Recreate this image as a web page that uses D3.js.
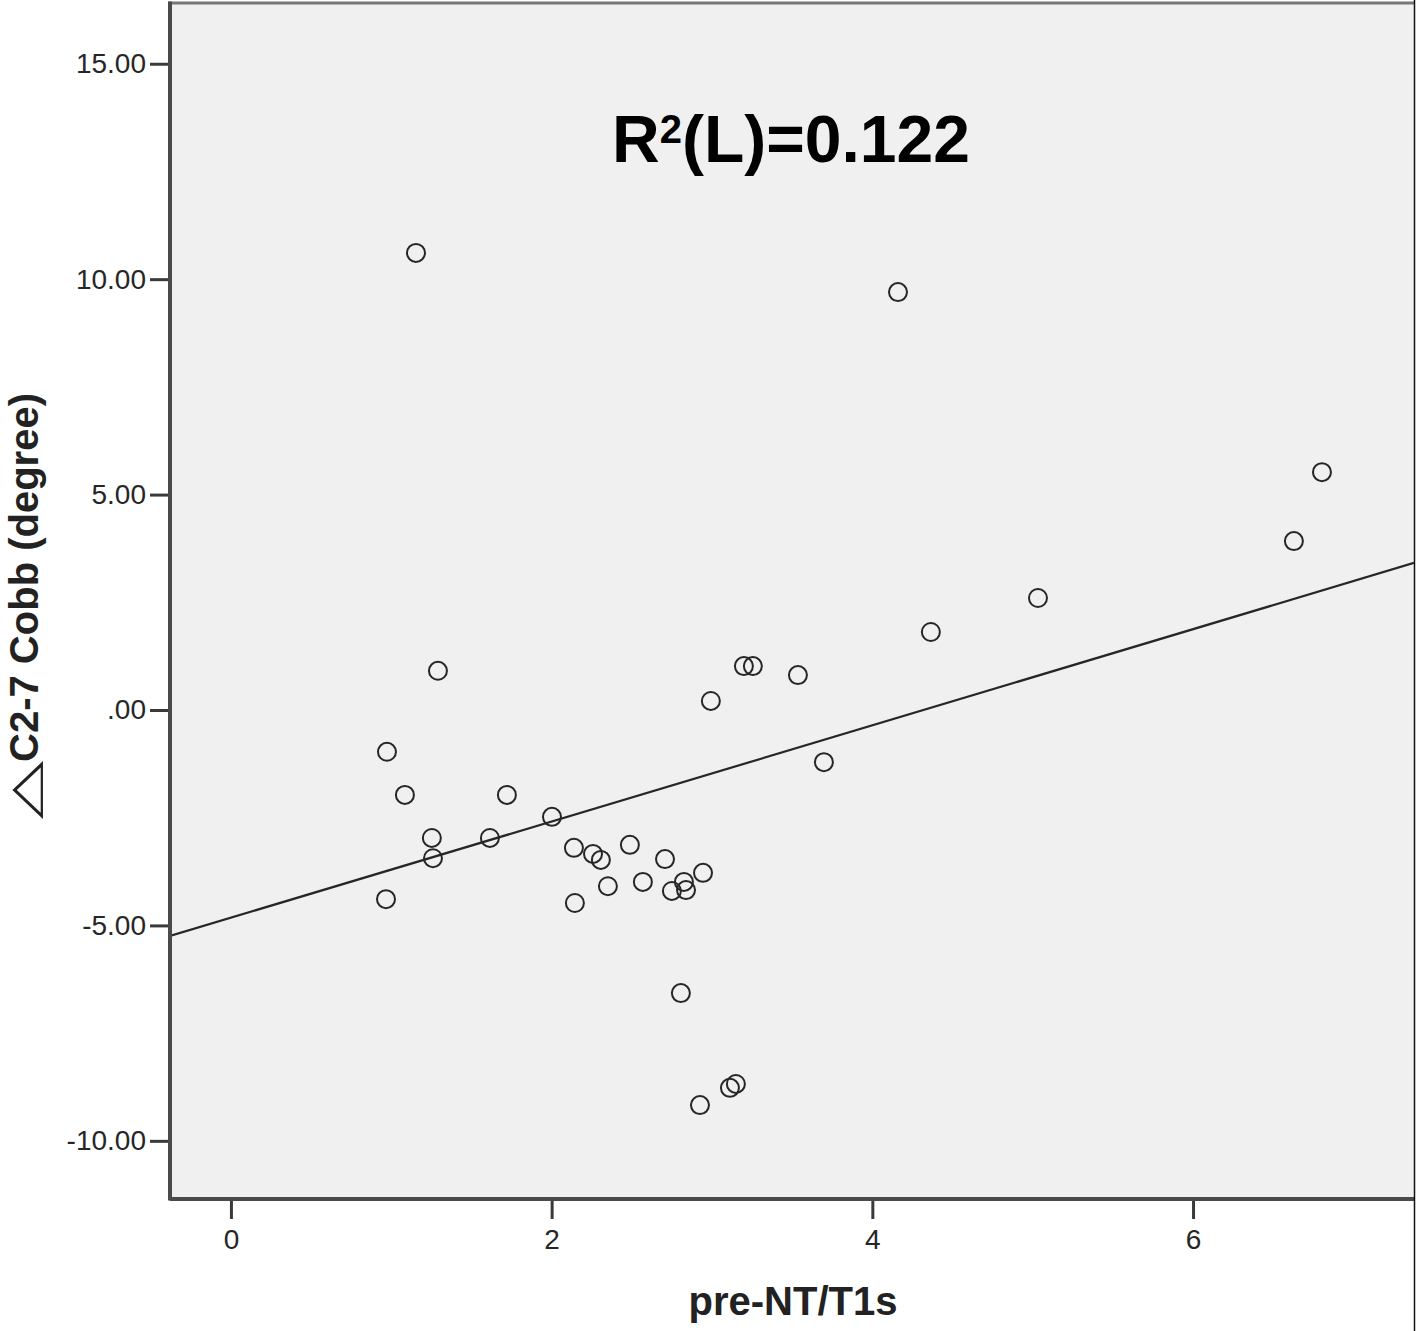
<!DOCTYPE html>
<html>
<head>
<meta charset="utf-8">
<script src="https://cdn.jsdelivr.net/npm/d3@7"></script>
<style>
  html, body { margin: 0; padding: 0; background: #ffffff; }
  svg { display: block; }
</style>
</head>
<body>
<svg id="chart" width="1418" height="1331"></svg>
<script>
// ---- data ----
const preNT = [1.154, 4.160, 6.804, 6.629, 5.033, 4.365, 1.291, 3.199, 3.255, 3.536,
               2.993, 0.973, 3.698, 1.085, 1.721, 2.002, 1.253, 1.615, 1.260, 0.967,
               2.139, 2.258, 2.307, 2.488, 2.707, 2.351, 2.569, 2.145, 2.944, 2.825,
               2.750, 2.838, 2.806, 3.112, 3.149, 2.925];
const deltaCobb = [10.61, 9.70, 5.52, 3.92, 2.60, 1.81, 0.91, 1.02, 1.02, 0.81,
                   0.21, -0.97, -1.21, -1.97, -1.97, -2.48, -2.97, -2.97, -3.44, -4.39,
                   -3.20, -3.34, -3.48, -3.13, -3.46, -4.09, -3.99, -4.48, -3.78, -3.99,
                   -4.20, -4.18, -6.57, -8.77, -8.68, -9.17];
const xTicks = [0, 2, 4, 6];
const yTicks = [15, 10, 5, 0, -5, -10];
const yTickLabels = ["15.00", "10.00", "5.00", ".00", "-5.00", "-10.00"];
const fitIntercept = -4.82;
const fitSlope = 1.116;
const r2Parts = ["R", "2", "(L)=0.122"];
const xTitle = "pre-NT/T1s";
const yTitleSymbol = "\u25B3";
const yTitle = "C2-7 Cobb (degree)";

// ---- layout ----
const svg = d3.select("#chart");
const pL = 170, pR = 1414, pT = 3, pB = 1199;
const font = "'Liberation Sans', Arial, Helvetica, sans-serif";

const x = d3.scaleLinear().domain([-0.38, 7.378]).range([pL, pR]);
const y = d3.scaleLinear().domain([-11.35, 16.41]).range([pB, pT]);

// plot background
svg.append("rect")
  .attr("x", pL).attr("y", pT)
  .attr("width", pR - pL).attr("height", pB - pT)
  .attr("fill", "#f0f0f0");

// clip for marks
svg.append("clipPath").attr("id", "clip")
  .append("rect").attr("x", pL).attr("y", pT)
  .attr("width", pR - pL).attr("height", pB - pT);

// regression line
const xd = x.domain();
svg.append("line")
  .attr("clip-path", "url(#clip)")
  .attr("x1", x(xd[0])).attr("y1", y(fitIntercept + fitSlope * xd[0]))
  .attr("x2", x(xd[1])).attr("y2", y(fitIntercept + fitSlope * xd[1]))
  .attr("stroke", "#262626").attr("stroke-width", 2.2);

// points
svg.append("g").attr("clip-path", "url(#clip)")
  .selectAll("circle")
  .data(preNT.map((v, i) => [v, deltaCobb[i]]))
  .join("circle")
  .attr("cx", d => x(d[0]))
  .attr("cy", d => y(d[1]))
  .attr("r", 9)
  .attr("fill", "none")
  .attr("stroke", "#262626")
  .attr("stroke-width", 2);

// frame
svg.append("line").attr("x1", pL - 2).attr("x2", pR).attr("y1", pT).attr("y2", pT)
  .attr("stroke", "#777").attr("stroke-width", 3);
svg.append("line").attr("x1", pL).attr("x2", pL).attr("y1", pT - 1.5).attr("y2", pB + 1.5)
  .attr("stroke", "#4a4a4a").attr("stroke-width", 4);
svg.append("line").attr("x1", pL).attr("x2", pR).attr("y1", pB).attr("y2", pB)
  .attr("stroke", "#4a4a4a").attr("stroke-width", 4);
svg.append("line").attr("x1", pR + 0.5).attr("x2", pR + 0.5).attr("y1", 0).attr("y2", 1331)
  .attr("stroke", "#111").attr("stroke-width", 1.5);

// y axis
const yAxis = d3.axisLeft(y).tickValues(yTicks)
  .tickFormat((d, i) => yTickLabels[i]).tickSize(18).tickPadding(4);
const gy = svg.append("g").attr("transform", `translate(${pL - 2},0)`).call(yAxis);
gy.select(".domain").remove();
gy.selectAll(".tick line").attr("stroke", "#3a3a3a").attr("stroke-width", 3);
gy.selectAll(".tick text").attr("font-family", font).attr("font-size", 28)
  .attr("fill", "#262626");

// x axis
const xAxis = d3.axisBottom(x).tickValues(xTicks).tickFormat(d3.format("d"))
  .tickSize(18).tickPadding(10);
const gx = svg.append("g").attr("transform", `translate(0,${pB + 2})`).call(xAxis);
gx.select(".domain").remove();
gx.selectAll(".tick line").attr("stroke", "#3a3a3a").attr("stroke-width", 3);
gx.selectAll(".tick text").attr("font-family", font).attr("font-size", 28)
  .attr("fill", "#262626");

// R2 annotation
const r2 = svg.append("text")
  .attr("x", 612).attr("y", 162)
  .attr("font-family", font).attr("font-weight", "bold").attr("font-size", 66)
  .attr("fill", "#000");
r2.append("tspan").text(r2Parts[0]);
r2.append("tspan").attr("font-size", 40).attr("dy", -19).text(r2Parts[1]);
r2.append("tspan").attr("dy", 19).text(r2Parts[2]);

// axis titles
svg.append("text")
  .attr("x", 793).attr("y", 1315)
  .attr("text-anchor", "middle")
  .attr("font-family", font).attr("font-weight", "bold").attr("font-size", 40)
  .attr("fill", "#222")
  .text(xTitle);

// y title: triangle symbol (wide, thin outline) + bold text
svg.append("text")
  .attr("transform", "translate(37.5,790) rotate(-90) scale(1.9,1)")
  .attr("text-anchor", "middle")
  .attr("font-family", "'DejaVu Sans', sans-serif").attr("font-size", 40)
  .attr("fill", "#222")
  .text(yTitleSymbol);
svg.append("text")
  .attr("transform", "translate(37.5,393) rotate(-90)")
  .attr("text-anchor", "end")
  .attr("font-family", font).attr("font-weight", "bold").attr("font-size", 40)
  .attr("fill", "#222")
  .text(yTitle);
</script>
</body>
</html>
